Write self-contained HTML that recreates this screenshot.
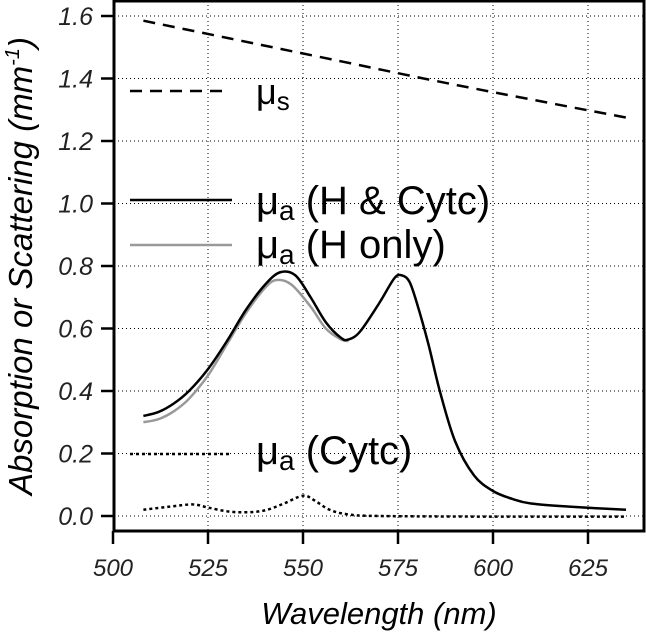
<!DOCTYPE html>
<html><head><meta charset="utf-8"><style>
html,body{margin:0;padding:0;background:#fff;}
svg{display:block;font-family:"Liberation Sans",sans-serif;}
</style></head><body>
<svg id="chart" width="646" height="634" viewBox="0 0 646 634">
<g id="grid"></g>
<rect x="114" y="1" width="530" height="530" fill="none" stroke="#000" stroke-width="3"/>
<g id="axes"></g>
<g id="series"></g>
<g id="legend">
  <line x1="130" y1="91" x2="222" y2="91" stroke="#000" stroke-width="2.5" stroke-dasharray="12,8"/>
  <text x="256" y="104" font-size="36">μ<tspan font-size="26" dy="6">s</tspan></text>
  <line x1="130" y1="200" x2="232" y2="200" stroke="#000" stroke-width="2.5"/>
  <text x="256" y="214" font-size="40">μ<tspan font-size="28" dy="6">a</tspan><tspan dy="-6"> (H &amp; Cytc)</tspan></text>
  <line x1="130" y1="245" x2="232" y2="245" stroke="#999" stroke-width="2.5"/>
  <text x="256" y="258" font-size="40">μ<tspan font-size="28" dy="6">a</tspan><tspan dy="-6"> (H only)</tspan></text>
  <line x1="130" y1="454" x2="230" y2="454" stroke="#000" stroke-width="2.5" stroke-dasharray="3,3"/>
  <text x="256" y="464" font-size="40">μ<tspan font-size="28" dy="6">a</tspan><tspan dy="-6"> (Cytc)</tspan></text>
</g>
<text x="379" y="624" font-size="31" font-style="italic" text-anchor="middle">Wavelength (nm)</text>
<text transform="translate(32,266) rotate(-90)" font-size="33" font-style="italic" text-anchor="middle">Absorption or Scattering (mm<tspan font-size="20" dy="-13">-1</tspan><tspan dy="13">)</tspan></text>
</svg>
<script>
const xTicks = [500, 525, 550, 575, 600, 625];
const yTicks = [0.0, 0.2, 0.4, 0.6, 0.8, 1.0, 1.2, 1.4, 1.6];
const wlMus = [508, 530, 560, 590, 635];
const valMus = [1.585, 1.53, 1.455, 1.38, 1.275];
const wlHC = [508,512,516,520,525,530,535,540,544,548,552,556,560,562,565,570,574,576,578,580,583,586,590,595,600,605,610,620,635];
const valHC = [0.32,0.333,0.36,0.40,0.47,0.56,0.66,0.74,0.78,0.77,0.70,0.62,0.57,0.565,0.59,0.68,0.76,0.77,0.75,0.68,0.55,0.40,0.24,0.13,0.08,0.055,0.04,0.03,0.02];
const wlH = [508,512,516,520,525,530,535,540,543,547,552,556,560,562];
const valH = [0.30,0.31,0.335,0.375,0.45,0.55,0.65,0.73,0.755,0.74,0.67,0.60,0.565,0.56];
const wlC = [508,515,521,525,530,535,540,545,550,553,557,562,570,600,635];
const valC = [0.02,0.03,0.037,0.027,0.015,0.012,0.018,0.04,0.065,0.05,0.02,0.005,0.0,-0.002,-0.002];

const NS = 'http://www.w3.org/2000/svg';
const X = w => 113 + (w - 500) * 3.8;
const Y = v => 516 - v * 312.5;
function mk(tag, attrs, parent){const e=document.createElementNS(NS,tag);for(const k in attrs)e.setAttribute(k,attrs[k]);parent.appendChild(e);return e;}
const grid = document.getElementById('grid'), axes = document.getElementById('axes'), series = document.getElementById('series');
xTicks.forEach(t => {
  const x = X(t);
  if (t > 500) { const g = mk('line',{x1:x,y1:1,x2:x,y2:531,stroke:'#000','stroke-width':1,'stroke-dasharray':'1,3'},grid);
      }
  const tk = mk('line',{x1:x,y1:531,x2:x,y2:544,stroke:'#000','stroke-width':2.5},axes);
   
  const tx = mk('text',{x:x,y:576,'font-size':24,'font-style':'italic','text-anchor':'middle',fill:'#222'},axes);
  tx.textContent = t;
   
});
yTicks.forEach(t => {
  const y = Y(t);
  const g = mk('line',{x1:114,y1:y,x2:644,y2:y,stroke:'#000','stroke-width':1,'stroke-dasharray':'1,3'},grid);
   
  const tk = mk('line',{x1:101,y1:y,x2:114,y2:y,stroke:'#000','stroke-width':2.5},axes);
   
  const tx = mk('text',{x:93,y:y+9,'font-size':25,'font-style':'italic','text-anchor':'end',fill:'#222'},axes);
  tx.textContent = t.toFixed(1);
   
});
function curve(ws, vs){
  const p = ws.map((w,i)=>[X(w),Y(vs[i])]);
  let d = 'M'+p[0][0]+','+p[0][1];
  for(let i=0;i<p.length-1;i++){
    const p0=p[Math.max(0,i-1)],p1=p[i],p2=p[i+1],p3=p[Math.min(p.length-1,i+2)];
    const c1x=p1[0]+(p2[0]-p0[0])/6,c1y=p1[1]+(p2[1]-p0[1])/6,c2x=p2[0]-(p3[0]-p1[0])/6,c2y=p2[1]-(p3[1]-p1[1])/6;
    d+=` C${c1x},${c1y} ${c2x},${c2y} ${p2[0]},${p2[1]}`;
  }
  return d;
}
const s1 = mk('path',{d:curve(wlMus,valMus),fill:'none',stroke:'#000','stroke-width':2.5,'stroke-dasharray':'12,8'},series);
 
const s2 = mk('path',{d:curve(wlH,valH),fill:'none',stroke:'#999','stroke-width':2.5},series);
 
const s3 = mk('path',{d:curve(wlHC,valHC),fill:'none',stroke:'#000','stroke-width':2.5},series);
 
const s4 = mk('path',{d:curve(wlC,valC),fill:'none',stroke:'#000','stroke-width':2.5,'stroke-dasharray':'3,3'},series);
 
</script>
</body></html>
